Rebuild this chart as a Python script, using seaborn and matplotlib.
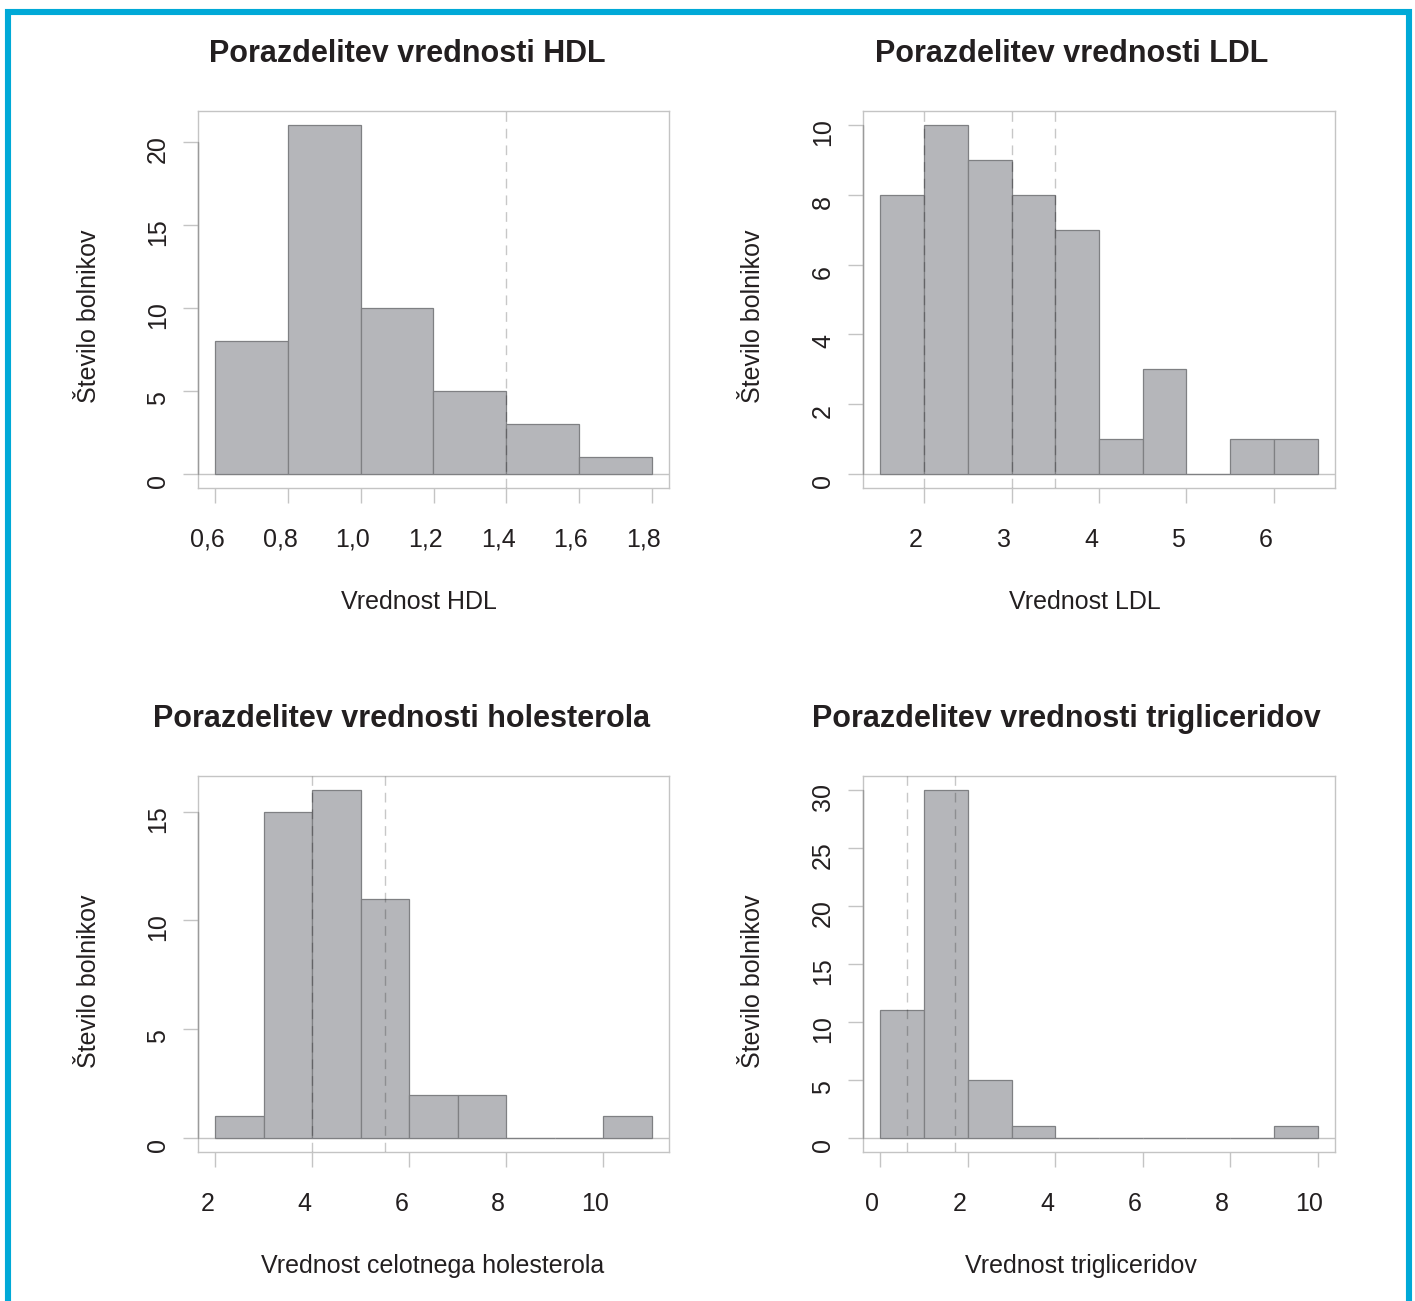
import numpy as np
import pandas as pd
import matplotlib
matplotlib.use("Agg")
import matplotlib.pyplot as plt
import seaborn as sns
from matplotlib.transforms import ScaledTranslation
from matplotlib.lines import Line2D

# ---------------- data ----------------
hdl_edges = [0.6, 0.8, 1.0, 1.2, 1.4, 1.6, 1.8]
hdl_counts = [8, 21, 10, 5, 3, 1]
hdl_ref = [1.4]
hdl_xticks = [0.6, 0.8, 1.0, 1.2, 1.4, 1.6, 1.8]
hdl_xlabels = ["0,6", "0,8", "1,0", "1,2", "1,4", "1,6", "1,8"]
hdl_yticks = [0, 5, 10, 15, 20]

ldl_edges = [1.5, 2.0, 2.5, 3.0, 3.5, 4.0, 4.5, 5.0, 5.5, 6.0, 6.5]
ldl_counts = [8, 10, 9, 8, 7, 1, 3, 0, 1, 1]
ldl_ref = [2.0, 3.0, 3.5]
ldl_xticks = [2, 3, 4, 5, 6]
ldl_xlabels = ["2", "3", "4", "5", "6"]
ldl_yticks = [0, 2, 4, 6, 8, 10]

hol_edges = [2, 3, 4, 5, 6, 7, 8, 9, 10, 11]
hol_counts = [1, 15, 16, 11, 2, 2, 0, 0, 1]
hol_ref = [4.0, 5.5]
hol_xticks = [2, 4, 6, 8, 10]
hol_xlabels = ["2", "4", "6", "8", "10"]
hol_yticks = [0, 5, 10, 15]

tri_edges = [0, 1, 2, 3, 4, 5, 6, 7, 8, 9, 10]
tri_counts = [11, 30, 5, 1, 0, 0, 0, 0, 0, 1]
tri_ref = [0.6, 1.7]
tri_xticks = [0, 2, 4, 6, 8, 10]
tri_xlabels = ["0", "2", "4", "6", "8", "10"]
tri_yticks = [0, 5, 10, 15, 20, 25, 30]

titles = ["Porazdelitev vrednosti HDL", "Porazdelitev vrednosti LDL",
          "Porazdelitev vrednosti holesterola", "Porazdelitev vrednosti trigliceridov"]
xlabels = ["Vrednost HDL", "Vrednost LDL",
           "Vrednost celotnega holesterola", "Vrednost trigliceridov"]
ylabel = "Število bolnikov"

# ---------------- style ----------------
sns.set_style("white")
plt.rcParams["font.family"] = ["Liberation Sans", "DejaVu Sans"]

BAR = "#b5b6ba"
EDGE = "#7f8083"
BOX = "#c4c4c4"
AXL = "#9a9a9a"
TXT = "#231f20"
BLUE = "#00a9d7"

W, H = 1415, 1301
fig = plt.figure(figsize=(W / 100, H / 100), dpi=100)
fig.patch.set_facecolor("white")


def px_axes(left, top, right, bottom):
    return fig.add_axes([left / W, 1 - bottom / H, (right - left) / W, (bottom - top) / H])


def panel(ax, edges, counts, ref, xticks, xtl, yticks, title, xlabel,
          title_x, xlabel_x):
    e = np.asarray(edges, float)
    mids = (e[:-1] + e[1:]) / 2
    df = pd.DataFrame({"x": mids, "n": counts})
    sns.histplot(data=df, x="x", weights="n", bins=list(edges), ax=ax,
                 color=BAR, edgecolor=EDGE, linewidth=0.9, alpha=1, zorder=2)
    lo, hi = e[0], e[-1]
    r = hi - lo
    ax.set_xlim(lo - 0.04 * r, hi + 0.04 * r)
    ymax = max(counts)
    ax.set_ylim(-0.04 * ymax, ymax * 1.04)
    ax.axhline(0, color=BOX, lw=1, zorder=1)
    for v in ref:
        ax.axvline(v, color="black", alpha=0.22, lw=1, ls=(0, (7, 5)), zorder=3)

    ax.set_xticks(xticks)
    ax.set_xticklabels(xtl)
    ax.set_yticks(yticks)
    ax.set_yticklabels([str(t) for t in yticks])
    ax.tick_params(axis="both", direction="out", length=10.8, width=1, color=BOX,
                   labelsize=18, labelcolor=TXT, bottom=True, left=True)
    ax.tick_params(axis="x", pad=18)
    ax.tick_params(axis="y", pad=9.4, labelrotation=90)
    for lbl in ax.get_xticklabels():
        lbl.set_transform(lbl.get_transform() + ScaledTranslation(-0.08, 0, fig.dpi_scale_trans))
    for lbl in ax.get_yticklabels():
        lbl.set_va("center")
        lbl.set_transform(lbl.get_transform() + ScaledTranslation(0, -0.07, fig.dpi_scale_trans))

    for s in ax.spines.values():
        s.set_visible(True)
        s.set_color(BOX)
        s.set_linewidth(1)
    ax.add_line(Line2D([0, 0], [yticks[0], yticks[-1]], transform=ax.get_yaxis_transform(),
                       color=AXL, lw=1, zorder=4, clip_on=False))

    ax.set_xlabel(xlabel, fontsize=18, color=TXT, va="baseline")
    ax.xaxis.set_label_coords(xlabel_x, -0.321)
    ax.set_ylabel(ylabel, fontsize=18, color=TXT, va="center")
    ax.yaxis.set_label_coords(-0.232, 0.455)
    ax.set_title(title, fontsize=22, fontweight="bold", color=TXT,
                 x=title_x, y=1.130, va="baseline", pad=0)
    ax.grid(False)


ax1 = px_axes(198, 111, 669, 488)
ax2 = px_axes(863, 111, 1335, 488)
ax3 = px_axes(198, 776, 669, 1152)
ax4 = px_axes(863, 776, 1335, 1152)

panel(ax1, hdl_edges, hdl_counts, hdl_ref, hdl_xticks, hdl_xlabels, hdl_yticks,
      titles[0], xlabels[0], 0.4437, 0.469)
panel(ax2, ldl_edges, ldl_counts, ldl_ref, ldl_xticks, ldl_xlabels, ldl_yticks,
      titles[1], xlabels[1], 0.4428, 0.470)
panel(ax3, hol_edges, hol_counts, hol_ref, hol_xticks, hol_xlabels, hol_yticks,
      titles[2], xlabels[2], 0.433, 0.499)
panel(ax4, tri_edges, tri_counts, tri_ref, tri_xticks, tri_xlabels, tri_yticks,
      titles[3], xlabels[3], 0.430, 0.462)

# blue frame (open at the bottom)
fig.add_artist(Line2D([8 / W, 8 / W, 1409 / W, 1409 / W],
                      [-0.05, 1 - 12 / H, 1 - 12 / H, -0.05],
                      transform=fig.transFigure, color=BLUE, lw=4.4,
                      solid_joinstyle="miter"))

fig.savefig("out.png", dpi=100, facecolor="white")
